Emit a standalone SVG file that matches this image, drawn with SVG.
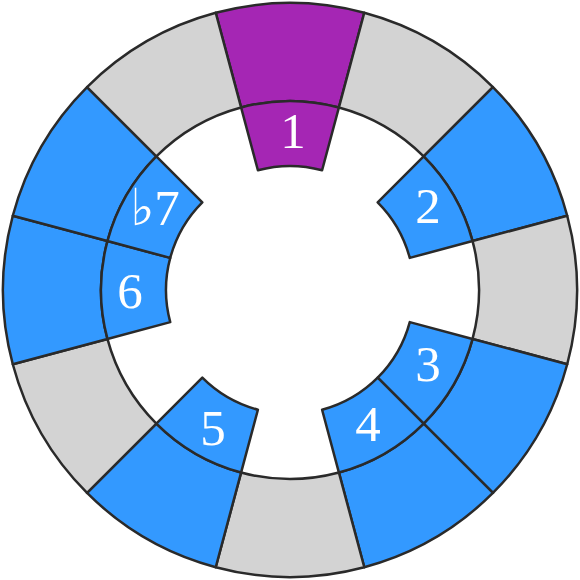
<svg xmlns="http://www.w3.org/2000/svg" width="580" height="580" viewBox="0 0 580 580">
<style>
.s{stroke:#2a2a2a;stroke-width:2.5;stroke-linejoin:round}
.p{fill:#A526B4}.b{fill:#3399FF}.g{fill:#D3D3D3}
.t{fill:#fff;font-family:"Liberation Serif","DejaVu Serif",serif;font-size:51px;text-anchor:middle;dominant-baseline:central}
</style>
<rect width="580" height="580" fill="#fff"/>
<g id="deg1">
<path class="s p" d="M215.72,12.78 A287,287 0 0 1 364.28,12.78 L338.92,107.44 A189,189 0 0 0 241.08,107.44 Z"/>
<path class="s p" d="M241.08,107.44 A189,189 0 0 1 338.92,107.44 L322.09,170.23 A124,124 0 0 0 257.91,170.23 Z"/>
<text class="t" x="293" y="131">1</text>
</g>
<g id="b2">
<path class="s g" d="M364.28,12.78 A287,287 0 0 1 492.94,87.06 L423.64,156.36 A189,189 0 0 0 338.92,107.44 Z"/>
</g>
<g id="deg2">
<path class="s b" d="M492.94,87.06 A287,287 0 0 1 567.22,215.72 L472.56,241.08 A189,189 0 0 0 423.64,156.36 Z"/>
<path class="s b" d="M423.64,156.36 A189,189 0 0 1 472.56,241.08 L409.77,257.91 A124,124 0 0 0 377.68,202.32 Z"/>
<text class="t" x="428" y="206">2</text>
</g>
<g id="b3">
<path class="s g" d="M567.22,215.72 A287,287 0 0 1 567.22,364.28 L472.56,338.92 A189,189 0 0 0 472.56,241.08 Z"/>
</g>
<g id="deg3">
<path class="s b" d="M567.22,364.28 A287,287 0 0 1 492.94,492.94 L423.64,423.64 A189,189 0 0 0 472.56,338.92 Z"/>
<path class="s b" d="M472.56,338.92 A189,189 0 0 1 423.64,423.64 L377.68,377.68 A124,124 0 0 0 409.77,322.09 Z"/>
<text class="t" x="428" y="364">3</text>
</g>
<g id="deg4">
<path class="s b" d="M492.94,492.94 A287,287 0 0 1 364.28,567.22 L338.92,472.56 A189,189 0 0 0 423.64,423.64 Z"/>
<path class="s b" d="M423.64,423.64 A189,189 0 0 1 338.92,472.56 L322.09,409.77 A124,124 0 0 0 377.68,377.68 Z"/>
<text class="t" x="368" y="424">4</text>
</g>
<g id="b5">
<path class="s g" d="M364.28,567.22 A287,287 0 0 1 215.72,567.22 L241.08,472.56 A189,189 0 0 0 338.92,472.56 Z"/>
</g>
<g id="deg5">
<path class="s b" d="M215.72,567.22 A287,287 0 0 1 87.06,492.94 L156.36,423.64 A189,189 0 0 0 241.08,472.56 Z"/>
<path class="s b" d="M241.08,472.56 A189,189 0 0 1 156.36,423.64 L202.32,377.68 A124,124 0 0 0 257.91,409.77 Z"/>
<text class="t" x="213" y="428">5</text>
</g>
<g id="b6">
<path class="s g" d="M87.06,492.94 A287,287 0 0 1 12.78,364.28 L107.44,338.92 A189,189 0 0 0 156.36,423.64 Z"/>
</g>
<g id="deg6">
<path class="s b" d="M12.78,364.28 A287,287 0 0 1 12.78,215.72 L107.44,241.08 A189,189 0 0 0 107.44,338.92 Z"/>
<path class="s b" d="M107.44,338.92 A189,189 0 0 1 107.44,241.08 L170.23,257.91 A124,124 0 0 0 170.23,322.09 Z"/>
<text class="t" x="130" y="291">6</text>
</g>
<g id="deg7">
<path class="s b" d="M12.78,215.72 A287,287 0 0 1 87.06,87.06 L156.36,156.36 A189,189 0 0 0 107.44,241.08 Z"/>
<path class="s b" d="M107.44,241.08 A189,189 0 0 1 156.36,156.36 L202.32,202.32 A124,124 0 0 0 170.23,257.91 Z"/>
<text class="t" x="155" y="208">♭7</text>
</g>
<g id="n7">
<path class="s g" d="M87.06,87.06 A287,287 0 0 1 215.72,12.78 L241.08,107.44 A189,189 0 0 0 156.36,156.36 Z"/>
</g>
<g id="connectors"></g>
</svg>
